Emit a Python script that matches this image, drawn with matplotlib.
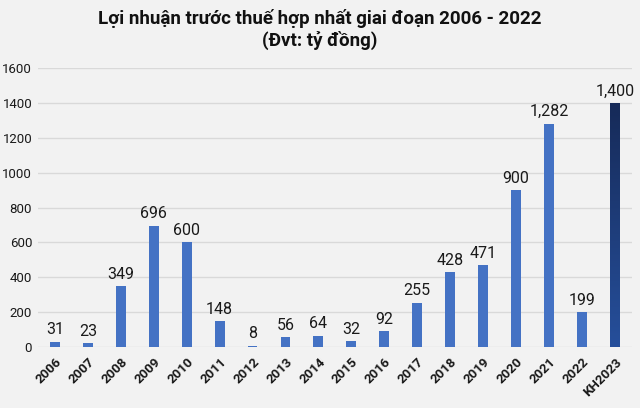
import matplotlib
matplotlib.use("Agg")
import matplotlib.pyplot as plt
import numpy as np
from matplotlib.colors import LinearSegmentedColormap

plt.rcParams['font.family'] = ['Roboto', 'DejaVu Sans']

categories = ["2006", "2007", "2008", "2009", "2010", "2011", "2012", "2013", "2014",
              "2015", "2016", "2017", "2018", "2019", "2020", "2021", "2022", "KH2023"]
values = [31, 23, 349, 696, 600, 148, 8, 56, 64, 32, 92, 255, 428, 471, 900, 1282, 199, 1400]
labels = ["31", "23", "349", "696", "600", "148", "8", "56", "64", "32", "92", "255",
          "428", "471", "900", "1,282", "199", "1,400"]
yticks = [0, 200, 400, 600, 800, 1000, 1200, 1400, 1600]

bg = "#f2f2f2"
fig = plt.figure(figsize=(6.4, 4.08), dpi=100, facecolor=bg)
ax = fig.add_axes([0.059, 0.1495, 0.9285, 0.6835], facecolor=bg)

x = np.arange(len(categories))
colors = ["#4472c4"] * (len(categories) - 1) + ["none"]
bars = ax.bar(x, values, width=0.3, color=colors, zorder=2)

# gradient for the last bar
last = bars[-1]
cmap = LinearSegmentedColormap.from_list("g", ["#264f9b", "#162a58"])
grad = np.linspace(0, 1, 256).reshape(-1, 1)
bx = last.get_x(); bw = last.get_width(); bh = last.get_height()
im = ax.imshow(grad, extent=[bx, bx + bw, 0, bh], origin="lower", cmap=cmap,
               aspect="auto", zorder=2)
im.set_clip_path(last)

for xi, v, lab in zip(x, values, labels):
    ax.text(xi, v + 25, lab, ha="center", va="bottom", fontsize=11.5, color="#1a1a1a")

ax.set_xlim(-0.52, len(categories) - 0.48)
ax.set_ylim(0, 1600)
ax.set_yticks(yticks)
ax.set_yticklabels([str(t) for t in yticks], fontsize=9.5, color="#1a1a1a")
ax.set_xticks(x)
ax.set_xticklabels(categories, rotation=45, ha="right", rotation_mode="anchor",
                   fontsize=9.5, fontweight="bold", color="#1a1a1a")
ax.grid(axis="y", color="#d9d9d9", linewidth=1, zorder=0)
ax.set_axisbelow(True)
for s in ax.spines.values():
    s.set_visible(False)
ax.tick_params(length=0, pad=4)
ax.tick_params(axis="x", pad=6)

fig.text(0.5, 0.955, "Lợi nhuận trước thuế hợp nhất giai đoạn 2006 - 2022",
         ha="center", va="center", fontsize=13.5, fontweight="bold", color="#111111")
fig.text(0.5, 0.9, "(Đvt: tỷ đồng)", ha="center", va="center",
         fontsize=13.5, fontweight="bold", color="#111111")

fig.savefig("out.png", dpi=100, facecolor=bg)
